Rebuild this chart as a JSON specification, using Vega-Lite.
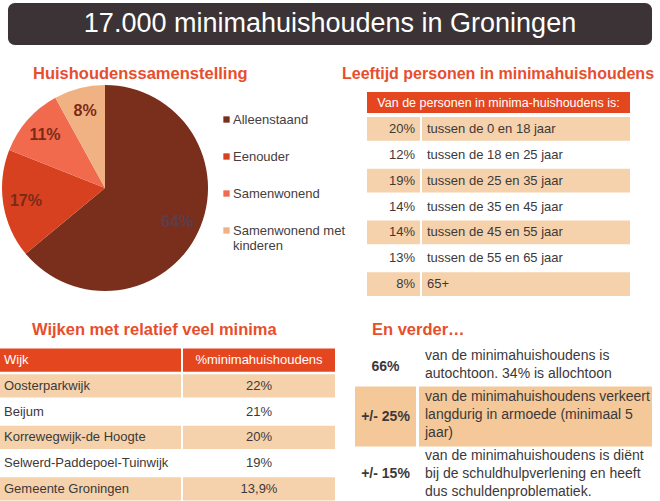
{
  "$schema": "https://vega.github.io/schema/vega-lite/v6.json",
  "background": "white",
  "padding": {"left": 0, "top": 3, "right": 0, "bottom": 0},
  "config": {
    "font": "Liberation Sans",
    "view": {"stroke": null},
    "title": {"color": "#e84e2c", "fontSize": 16.5, "fontWeight": "bold", "anchor": "start", "font": "Liberation Sans"},
    "locale": {"number": {"decimal": ",", "thousands": ".", "grouping": [3], "currency": ["€ ", ""]}}
  },
  "datasets": {
    "huishoudens": [
      {"type": "Alleenstaand", "pct": 0.64},
      {"type": "Eenouder", "pct": 0.17},
      {"type": "Samenwonend", "pct": 0.11},
      {"type": "Samenwonend met kinderen", "pct": 0.08}
    ],
    "leeftijd": [
      {"i": 0, "pct": 0.20, "groep": "tussen de 0 en 18 jaar"},
      {"i": 1, "pct": 0.12, "groep": "tussen de 18 en 25 jaar"},
      {"i": 2, "pct": 0.19, "groep": "tussen de 25 en 35 jaar"},
      {"i": 3, "pct": 0.14, "groep": "tussen de 35 en 45 jaar"},
      {"i": 4, "pct": 0.14, "groep": "tussen de 45 en 55 jaar"},
      {"i": 5, "pct": 0.13, "groep": "tussen de 55 en 65 jaar"},
      {"i": 6, "pct": 0.08, "groep": "65+"}
    ],
    "wijken": [
      {"i": 1, "wijk": "Oosterparkwijk", "pct": 0.22},
      {"i": 2, "wijk": "Beijum", "pct": 0.21},
      {"i": 3, "wijk": "Korrewegwijk-de Hoogte", "pct": 0.20},
      {"i": 4, "wijk": "Selwerd-Paddepoel-Tuinwijk", "pct": 0.19},
      {"i": 5, "wijk": "Gemeente Groningen", "pct": 0.139}
    ],
    "verder": [
      {"i": 0, "kort": "66%", "tekst": "van de minimahuishoudens is\nautochtoon. 34% is allochtoon"},
      {"i": 1, "kort": "+/- 25%", "tekst": "van de minimahuishoudens verkeert\nlangdurig in armoede (minimaal 5\njaar)"},
      {"i": 2, "kort": "+/- 15%", "tekst": "van de minimahuishoudens is diënt\nbij de schuldhulpverlening en heeft\ndus schuldenproblematiek."}
    ]
  },
  "spacing": 20,
  "vconcat": [
    {
      "width": 660,
      "height": 42,
      "data": {"values": [{"titel": "17.000 minimahuishoudens in Groningen"}]},
      "layer": [
        {
          "mark": {"type": "rect", "color": "#3b3335", "cornerRadius": 7},
          "encoding": {"x": {"datum": "balk", "type": "nominal", "axis": null, "scale": {"paddingInner": 0, "paddingOuter": 0.0124}}}
        },
        {
          "mark": {"type": "text", "color": "white", "fontSize": 27},
          "encoding": {"text": {"field": "titel", "type": "nominal"}}
        }
      ]
    },
    {
      "spacing": 25.5,
      "vconcat": [
        {
          "spacing": 94,
          "hconcat": [
            {
              "title": {"text": "Huishoudenssamenstelling", "dx": 33, "offset": 3},
              "width": 210,
              "height": 192,
              "data": {"name": "huishoudens"},
              "encoding": {
                "theta": {"field": "pct", "type": "quantitative", "stack": true},
                "order": {"field": "pct", "type": "quantitative", "sort": "descending"}
              },
              "layer": [
                {
                  "mark": {"type": "arc", "outerRadius": 103},
                  "encoding": {
                    "color": {
                      "field": "type", "type": "nominal",
                      "scale": {
                        "domain": ["Alleenstaand", "Eenouder", "Samenwonend", "Samenwonend met kinderen"],
                        "range": ["#7a2e1c", "#d8411f", "#f26a4e", "#f1b283"]
                      },
                      "legend": {
                        "title": null, "orient": "none", "legendX": 220, "legendY": 110,
                        "symbolType": "square", "symbolSize": 40, "symbolStrokeWidth": 0,
                        "labelFontSize": 13, "labelColor": "#444040", "labelOffset": 0,
                        "rowPadding": 23, "padding": 0, "labelLimit": 300,
                        "labelExpr": "datum.label == 'Samenwonend met kinderen' ? ['Samenwonend met', 'kinderen'] : datum.label"
                      }
                    }
                  }
                },
                {
                  "mark": {"type": "text", "radius": 80, "fontSize": 16, "fontWeight": "bold"},
                  "encoding": {
                    "text": {"field": "pct", "type": "quantitative", "format": ".0%"},
                    "detail": {"field": "type", "type": "nominal"},
                    "color": {"condition": {"test": "datum.pct > 0.5", "value": "#5b3e4c"}, "value": "#7a2b18"}
                  }
                }
              ]
            },
            {
              "title": {"text": "Leeftijd personen in minimahuishoudens", "dx": -25, "offset": 10, "fontSize": 16},
              "spacing": 4,
              "vconcat": [
                {
                  "width": 263,
                  "height": 21,
                  "view": {"fill": "#e4471f", "stroke": null},
                  "data": {"values": [{"kop": "Van de personen in minima-huishoudens is:"}]},
                  "mark": {"type": "text", "color": "white", "fontSize": 12.5},
                  "encoding": {"text": {"field": "kop", "type": "nominal"}}
                },
                {
                  "spacing": 2,
                  "hconcat": [
                    {
                      "width": 53,
                      "height": 179,
                      "data": {"name": "leeftijd"},
                      "resolve": {"scale": {"x": "independent"}},
                      "encoding": {"y": {"field": "i", "type": "ordinal", "axis": null, "scale": {"paddingInner": 0.08, "paddingOuter": 0}}},
                      "layer": [
                        {"mark": {"type": "rect"}, "encoding": {"fill": {"condition": {"test": "datum.i % 2 == 0", "value": "#f5d2ab"}, "value": "white"}}},
                        {
                          "mark": {"type": "text", "align": "right", "dx": -5, "fontSize": 13, "color": "#3d3839"},
                          "encoding": {
                            "text": {"field": "pct", "type": "quantitative", "format": ".0%"},
                            "x": {"datum": "r", "type": "nominal", "axis": null, "scale": {"type": "point", "padding": 0, "align": 1}}
                          }
                        }
                      ]
                    },
                    {
                      "width": 208,
                      "height": 179,
                      "data": {"name": "leeftijd"},
                      "resolve": {"scale": {"x": "independent"}},
                      "encoding": {"y": {"field": "i", "type": "ordinal", "axis": null, "scale": {"paddingInner": 0.08, "paddingOuter": 0}}},
                      "layer": [
                        {"mark": {"type": "rect"}, "encoding": {"fill": {"condition": {"test": "datum.i % 2 == 0", "value": "#f5d2ab"}, "value": "white"}}},
                        {
                          "mark": {"type": "text", "align": "left", "dx": 5, "fontSize": 13, "color": "#3d3839"},
                          "encoding": {
                            "text": {"field": "groep", "type": "nominal"},
                            "x": {"datum": "l", "type": "nominal", "axis": null, "scale": {"type": "point", "padding": 0, "align": 0}}
                          }
                        }
                      ]
                    }
                  ]
                }
              ]
            }
          ]
        },
        {
          "spacing": 20,
          "hconcat": [
            {
              "title": {"text": "Wijken met relatief veel minima", "dx": 32, "offset": 10.5},
              "spacing": 2,
              "hconcat": [
                {
                  "width": 181,
                  "height": 152,
                  "resolve": {"scale": {"x": "independent"}},
                  "encoding": {"y": {"field": "i", "type": "ordinal", "axis": null, "scale": {"paddingInner": 0.1, "paddingOuter": 0}}},
                  "layer": [
                    {"data": {"name": "wijken"}, "mark": {"type": "rect"}, "encoding": {"fill": {"condition": {"test": "datum.i % 2 == 1", "value": "#f5d2ab"}, "value": "white"}}},
                    {
                      "data": {"name": "wijken"},
                      "mark": {"type": "text", "align": "left", "dx": 4, "fontSize": 13, "color": "#3d3839"},
                      "encoding": {
                        "text": {"field": "wijk", "type": "nominal"},
                        "x": {"datum": "l", "type": "nominal", "axis": null, "scale": {"type": "point", "padding": 0, "align": 0}}
                      }
                    },
                    {"data": {"values": [{"i": 0, "kop": "Wijk"}]}, "mark": {"type": "rect", "color": "#e4471f"}, "encoding": {}},
                    {
                      "data": {"values": [{"i": 0, "kop": "Wijk"}]},
                      "mark": {"type": "text", "align": "left", "dx": 4, "fontSize": 13, "color": "white"},
                      "encoding": {
                        "text": {"field": "kop", "type": "nominal"},
                        "x": {"datum": "l", "type": "nominal", "axis": null, "scale": {"type": "point", "padding": 0, "align": 0}}
                      }
                    }
                  ]
                },
                {
                  "width": 152,
                  "height": 152,
                  "encoding": {"y": {"field": "i", "type": "ordinal", "axis": null, "scale": {"paddingInner": 0.1, "paddingOuter": 0}}},
                  "layer": [
                    {"data": {"name": "wijken"}, "mark": {"type": "rect"}, "encoding": {"fill": {"condition": {"test": "datum.i % 2 == 1", "value": "#f5d2ab"}, "value": "white"}}},
                    {
                      "data": {"name": "wijken"},
                      "mark": {"type": "text", "fontSize": 13, "color": "#3d3839"},
                      "encoding": {"text": {"field": "pct", "type": "quantitative", "format": ".1~%"}}
                    },
                    {"data": {"values": [{"i": 0, "kop": "%minimahuishoudens"}]}, "mark": {"type": "rect", "color": "#e4471f"}, "encoding": {}},
                    {
                      "data": {"values": [{"i": 0, "kop": "%minimahuishoudens"}]},
                      "mark": {"type": "text", "fontSize": 13, "color": "white"},
                      "encoding": {"text": {"field": "kop", "type": "nominal"}}
                    }
                  ]
                }
              ]
            },
            {
              "title": {"text": "En verder…", "dx": 17, "offset": 10.5},
              "spacing": 1,
              "vconcat": [
                {
                  "spacing": 3,
                  "hconcat": [
                    {
                      "width": 61, "height": 37,
                      "data": {"name": "verder"}, "transform": [{"filter": "datum.i == 0"}],
                      "mark": {"type": "text", "fontSize": 14, "fontWeight": "bold", "color": "#3d3839"},
                      "encoding": {"text": {"field": "kort", "type": "nominal"}}
                    },
                    {
                      "width": 233, "height": 37,
                      "data": {"name": "verder"}, "transform": [{"filter": "datum.i == 0"}],
                      "mark": {"type": "text", "align": "left", "dx": 6, "dy": -11, "fontSize": 14, "lineBreak": "\n", "lineHeight": 18, "color": "#3d3839"},
                      "encoding": {
                        "text": {"field": "tekst", "type": "nominal"},
                        "x": {"datum": "l", "type": "nominal", "axis": null, "scale": {"type": "point", "padding": 0, "align": 0}}
                      }
                    }
                  ]
                },
                {
                  "spacing": 3,
                  "hconcat": [
                    {
                      "width": 61, "height": 60,
                      "view": {"fill": "#f4c898", "stroke": null},
                      "data": {"name": "verder"}, "transform": [{"filter": "datum.i == 1"}],
                      "mark": {"type": "text", "fontSize": 14, "fontWeight": "bold", "color": "#3d3839"},
                      "encoding": {"text": {"field": "kort", "type": "nominal"}}
                    },
                    {
                      "width": 233, "height": 60,
                      "view": {"fill": "#f4c898", "stroke": null},
                      "data": {"name": "verder"}, "transform": [{"filter": "datum.i == 1"}],
                      "mark": {"type": "text", "align": "left", "dx": 6, "dy": -20, "fontSize": 14, "lineBreak": "\n", "lineHeight": 18, "color": "#3d3839"},
                      "encoding": {
                        "text": {"field": "tekst", "type": "nominal"},
                        "x": {"datum": "l", "type": "nominal", "axis": null, "scale": {"type": "point", "padding": 0, "align": 0}}
                      }
                    }
                  ]
                },
                {
                  "spacing": 3,
                  "hconcat": [
                    {
                      "width": 61, "height": 53,
                      "data": {"name": "verder"}, "transform": [{"filter": "datum.i == 2"}],
                      "mark": {"type": "text", "fontSize": 14, "fontWeight": "bold", "color": "#3d3839"},
                      "encoding": {"text": {"field": "kort", "type": "nominal"}}
                    },
                    {
                      "width": 233, "height": 53,
                      "data": {"name": "verder"}, "transform": [{"filter": "datum.i == 2"}],
                      "mark": {"type": "text", "align": "left", "dx": 6, "dy": -18.5, "fontSize": 14, "lineBreak": "\n", "lineHeight": 18, "color": "#3d3839"},
                      "encoding": {
                        "text": {"field": "tekst", "type": "nominal"},
                        "x": {"datum": "l", "type": "nominal", "axis": null, "scale": {"type": "point", "padding": 0, "align": 0}}
                      }
                    }
                  ]
                }
              ]
            }
          ]
        }
      ]
    }
  ]
}
